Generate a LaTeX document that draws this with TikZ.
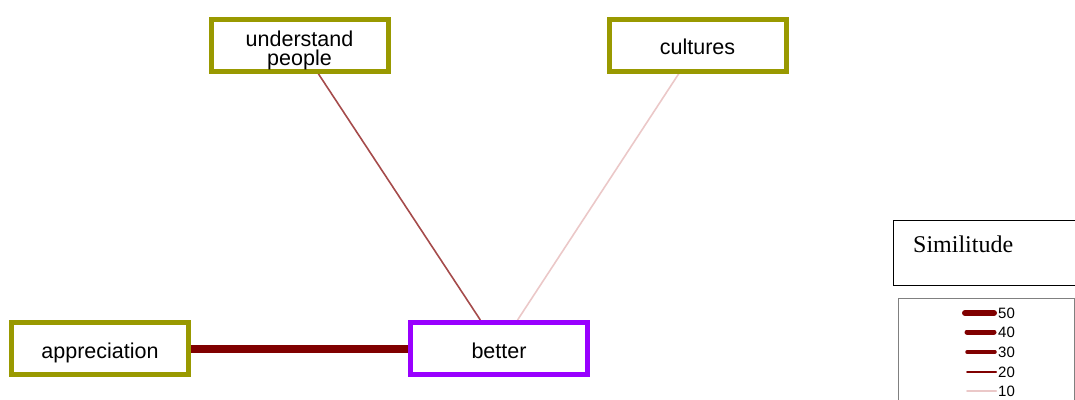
\documentclass[tikz,border=0pt]{standalone}
\usepackage{fontspec}
\setmainfont{Liberation Sans}
\newfontfamily\legendserif{Liberation Serif}
\usetikzlibrary{backgrounds}
\definecolor{olivebox}{RGB}{153,153,0}
\definecolor{purplebox}{RGB}{153,0,255}
\definecolor{edgedark}{RGB}{128,0,0}
\definecolor{edgemid}{RGB}{165,75,75}
\definecolor{edgelight}{RGB}{235,200,200}
\definecolor{legendgray}{RGB}{128,128,128}
\tikzset{
  wordbox/.style={draw=olivebox, line width=5pt, fill=white, rectangle,
    minimum width=177pt, minimum height=52pt, inner sep=0pt},
  centerbox/.style={wordbox, draw=purplebox},
  wordtext/.style={inner sep=0pt, font=\fontsize{21.5pt}{19pt}\selectfont, align=center},
  legendline/.style={line cap=round, edgedark},
  legendlabel/.style={anchor=west, inner sep=0pt, font=\fontsize{15pt}{15pt}\selectfont}
}
\begin{document}
\begin{tikzpicture}[x=1pt,y=-1pt]
\useasboundingbox (0,0) rectangle (1075,399);
\node[wordbox] (under) at (299.5,45) {};
\node[wordbox] (cult) at (697.5,45) {};
\node[wordbox] (appr) at (100,348.5) {};
\node[centerbox] (better) at (499,348.5) {};
\node[wordtext] (underT) at (299.5,50) {understand\\people};
\node[wordtext, anchor=base] (cultT) at (697.5,54.5) {cultures};
\node[wordtext, anchor=base] (apprT) at (100,358) {appreciation};
\node[wordtext, anchor=base] (betterT) at (499,358) {better};
\begin{scope}[on background layer]
  \draw[edgemid, line width=1.6pt] (under) -- (better);
  \draw[edgelight, line width=1.6pt] (cult) -- (better);
  \draw[edgedark, line width=8pt] (appr) -- (better);
\end{scope}
% legend
\node[draw=black, line width=0.8pt, rectangle, minimum width=190pt, minimum height=65pt, anchor=north west, inner sep=0pt] (simbox) at (893,220) {};
\node[anchor=base west, inner sep=0pt, font=\legendserif\fontsize{24pt}{24pt}\selectfont] (simtext) at (913,252) {Similitude};
\node[draw=legendgray, line width=1pt, rectangle, minimum width=176pt, minimum height=120pt, anchor=north west, inner sep=0pt] (legbox) at (898,298) {};
\draw[legendline, line width=6pt] (965,313) -- (994,313);
\draw[legendline, line width=5pt] (967,332) -- (994,332);
\draw[legendline, line width=3.5pt] (967,352) -- (995,352);
\draw[legendline, line width=2pt] (967,372) -- (996,372);
\draw[legendline, edgelight, line width=2pt] (967,391) -- (996,391);
\node[legendlabel] (l50) at (998,313) {50};
\node[legendlabel] (l40) at (998,332) {40};
\node[legendlabel] (l30) at (998,352) {30};
\node[legendlabel] (l20) at (998,372) {20};
\node[legendlabel] (l10) at (998,391) {10};
\end{tikzpicture}
\end{document}
